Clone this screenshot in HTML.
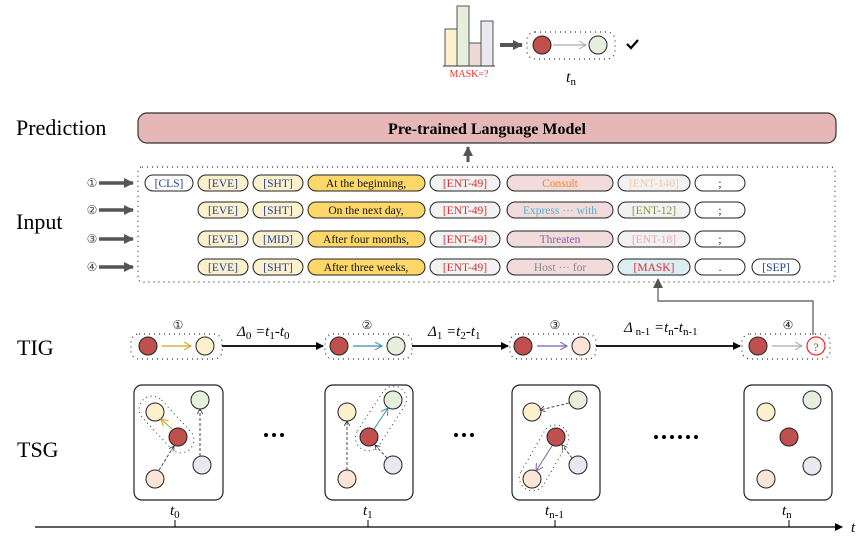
<!DOCTYPE html>
<html><head><meta charset="utf-8"><style>
html,body{margin:0;padding:0;background:#fff;}
svg{display:block;font-family:"Liberation Serif",serif;}
</style></head><body>
<svg width="864" height="540" viewBox="0 0 864 540" xmlns="http://www.w3.org/2000/svg">
<defs>
<marker id="ab" markerWidth="8" markerHeight="8" refX="7" refY="4" orient="auto" markerUnits="userSpaceOnUse"><path d="M0,0 L8,4 L0,8 z" fill="#000"/></marker>
<marker id="ag" markerWidth="10" markerHeight="10" refX="9" refY="5" orient="auto" markerUnits="userSpaceOnUse"><path d="M0,0 L10,5 L0,10 z" fill="#555"/></marker>
<marker id="ao" markerWidth="8" markerHeight="8" refX="7" refY="4" orient="auto" markerUnits="userSpaceOnUse"><path d="M0,0 L7,4 L0,8" fill="none" stroke="context-stroke" stroke-width="1"/></marker>
<marker id="as" markerWidth="6" markerHeight="6" refX="5" refY="3" orient="auto" markerUnits="userSpaceOnUse"><path d="M0,0 L5,3 L0,6" fill="none" stroke="#333" stroke-width="0.8"/></marker>
</defs>

<g stroke="#555" stroke-width="1">
<rect x="445" y="29" width="12" height="37" fill="#fdf1cd"/>
<rect x="457" y="6" width="12" height="60" fill="#e6efdc"/>
<rect x="469" y="43" width="12" height="23" fill="#efd9d7"/>
<rect x="481" y="21" width="12" height="45" fill="#e9e8f1"/>
</g>
<line x1="443" y1="66" x2="495" y2="66" stroke="#333" stroke-width="1"/>
<text x="469" y="77" font-size="10" fill="#f03030" text-anchor="middle">MASK=?</text>
<line x1="500" y1="45" x2="522" y2="45" stroke="#555" stroke-width="4" marker-end="url(#ag)"/>
<rect x="527" y="32" width="88" height="27" rx="8" fill="none" stroke="#333" stroke-width="1.2" stroke-dasharray="1,4"/>
<circle cx="542" cy="45" r="9" fill="#c0504d" stroke="#222"/>
<circle cx="598" cy="45" r="9" fill="#e6efdc" stroke="#222"/>
<line x1="553" y1="45" x2="586" y2="45" stroke="#aaa" stroke-width="1.2" marker-end="url(#ao)"/>
<path d="M627,44 L631,48 L638,40" fill="none" stroke="#000" stroke-width="2.2"/>
<text x="566" y="82" font-size="16" font-style="italic">t<tspan font-size="11" font-style="normal" dy="3">n</tspan></text>

<text x="16" y="135" font-size="22">Prediction</text>
<text x="16" y="229" font-size="22">Input</text>
<text x="17" y="355" font-size="22">TIG</text>
<text x="17" y="457" font-size="22">TSG</text>

<rect x="138" y="113" width="698" height="30" rx="9" fill="#e5b8b7" stroke="#333" stroke-width="1.2"/>
<text x="487" y="134" font-size="16" font-weight="bold" text-anchor="middle">Pre-trained Language Model</text>
<line x1="468" y1="162" x2="468" y2="147" stroke="#555" stroke-width="3" marker-end="url(#ag)"/>

<rect x="138" y="167" width="697" height="115" rx="4" fill="none" stroke="#333" stroke-width="1.2" stroke-dasharray="1,4"/>
<g font-size="12" fill="#444" text-anchor="middle">
<text x="92" y="187">①</text><text x="92" y="214">②</text><text x="92" y="243">③</text><text x="92" y="271">④</text>
</g>
<g stroke="#555" stroke-width="3.5">
<line x1="99" y1="183" x2="133" y2="183" marker-end="url(#ag)"/>
<line x1="99" y1="210" x2="133" y2="210" marker-end="url(#ag)"/>
<line x1="99" y1="239" x2="133" y2="239" marker-end="url(#ag)"/>
<line x1="99" y1="267" x2="133" y2="267" marker-end="url(#ag)"/>
</g>

<g font-size="11.5" text-anchor="middle" stroke-width="1">
<rect x="145" y="175" width="48" height="16" rx="8" fill="#fff" stroke="#222"/><text x="169" y="187" fill="#1f3f8f">[CLS]</text>
<rect x="198" y="175" width="50" height="16" rx="8" fill="#fdf1cd" stroke="#222"/><text x="223" y="187" fill="#1f3f8f">[EVE]</text>
<rect x="253" y="175" width="50" height="16" rx="8" fill="#fdf1cd" stroke="#222"/><text x="278" y="187" fill="#1f3f8f">[SHT]</text>
<rect x="308" y="175" width="117" height="16" rx="8" fill="#fdd868" stroke="#222"/><text x="366" y="187" fill="#111">At the beginning,</text>
<rect x="430" y="175" width="70" height="16" rx="8" fill="#f2f2f2" stroke="#222"/><text x="465" y="187" fill="#e03030">[ENT-49]</text>
<rect x="507" y="175" width="106" height="16" rx="8" fill="#f2dcdb" stroke="#222"/><text x="560" y="187" fill="#f08030">Consult</text>
<rect x="618" y="175" width="72" height="16" rx="8" fill="#f2f2f2" stroke="#222"/><text x="654" y="187" fill="#f5c8a8">[ENT-140]</text>
<rect x="695" y="175" width="50" height="16" rx="8" fill="#fff" stroke="#222"/><text x="720" y="187" fill="#222">;</text>
<rect x="198" y="202" width="50" height="16" rx="8" fill="#fdf1cd" stroke="#222"/><text x="223" y="214" fill="#1f3f8f">[EVE]</text>
<rect x="253" y="202" width="50" height="16" rx="8" fill="#fdf1cd" stroke="#222"/><text x="278" y="214" fill="#1f3f8f">[SHT]</text>
<rect x="308" y="202" width="117" height="16" rx="8" fill="#fdd868" stroke="#222"/><text x="366" y="214" fill="#111">On the next day,</text>
<rect x="430" y="202" width="70" height="16" rx="8" fill="#f2f2f2" stroke="#222"/><text x="465" y="214" fill="#e03030">[ENT-49]</text>
<rect x="507" y="202" width="106" height="16" rx="8" fill="#f2dcdb" stroke="#222"/><text x="560" y="214" fill="#5aaecc">Express ··· with</text>
<rect x="618" y="202" width="72" height="16" rx="8" fill="#f2f2f2" stroke="#222"/><text x="654" y="214" fill="#7a9a40">[ENT-12]</text>
<rect x="695" y="202" width="50" height="16" rx="8" fill="#fff" stroke="#222"/><text x="720" y="214" fill="#222">;</text>
<rect x="198" y="231" width="50" height="16" rx="8" fill="#fdf1cd" stroke="#222"/><text x="223" y="243" fill="#1f3f8f">[EVE]</text>
<rect x="253" y="231" width="50" height="16" rx="8" fill="#fdf1cd" stroke="#222"/><text x="278" y="243" fill="#1f3f8f">[MID]</text>
<rect x="308" y="231" width="117" height="16" rx="8" fill="#fdd868" stroke="#222"/><text x="366" y="243" fill="#111">After four months,</text>
<rect x="430" y="231" width="70" height="16" rx="8" fill="#f2f2f2" stroke="#222"/><text x="465" y="243" fill="#e03030">[ENT-49]</text>
<rect x="507" y="231" width="106" height="16" rx="8" fill="#f2dcdb" stroke="#222"/><text x="560" y="243" fill="#8060a8">Threaten</text>
<rect x="618" y="231" width="72" height="16" rx="8" fill="#f2f2f2" stroke="#222"/><text x="654" y="243" fill="#e8a8a8">[ENT-18]</text>
<rect x="695" y="231" width="50" height="16" rx="8" fill="#fff" stroke="#222"/><text x="720" y="243" fill="#222">;</text>
<rect x="198" y="259" width="50" height="16" rx="8" fill="#fdf1cd" stroke="#222"/><text x="223" y="271" fill="#1f3f8f">[EVE]</text>
<rect x="253" y="259" width="50" height="16" rx="8" fill="#fdf1cd" stroke="#222"/><text x="278" y="271" fill="#1f3f8f">[SHT]</text>
<rect x="308" y="259" width="117" height="16" rx="8" fill="#fdd868" stroke="#222"/><text x="366" y="271" fill="#111">After three weeks,</text>
<rect x="430" y="259" width="70" height="16" rx="8" fill="#f2f2f2" stroke="#222"/><text x="465" y="271" fill="#e03030">[ENT-49]</text>
<rect x="507" y="259" width="106" height="16" rx="8" fill="#f2dcdb" stroke="#222"/><text x="560" y="271" fill="#888">Host ··· for</text>
<rect x="618" y="259" width="72" height="16" rx="8" fill="#dbeef3" stroke="#222"/><text x="654" y="271" fill="#f02030">[MASK]</text>
<rect x="695" y="259" width="50" height="16" rx="8" fill="#fff" stroke="#222"/><text x="720" y="271" fill="#222">.</text>
<rect x="752" y="259" width="48" height="16" rx="8" fill="#fff" stroke="#222"/><text x="776" y="271" fill="#1f3f8f">[SEP]</text>
</g>

<polyline points="813,335 813,301 658,301 658,279" fill="none" stroke="#555" stroke-width="1.2" marker-end="url(#ag)"/>

<g stroke="#333" stroke-width="1.2" stroke-dasharray="1,4" fill="none">
<rect x="131" y="334" width="91" height="25" rx="8"/>
<rect x="325" y="334" width="87" height="25" rx="8"/>
<rect x="510" y="334" width="86" height="25" rx="8"/>
<rect x="742" y="334" width="88" height="25" rx="8"/>
</g>
<g font-size="12" text-anchor="middle" fill="#222">
<text x="178" y="329">①</text><text x="367" y="329">②</text><text x="555" y="329">③</text><text x="788" y="329">④</text>
</g>
<g stroke="#222" stroke-width="1">
<circle cx="148" cy="346" r="9" fill="#c0504d"/><circle cx="205" cy="346" r="9" fill="#fdf1cd"/>
<circle cx="339" cy="346" r="9" fill="#c0504d"/><circle cx="396" cy="346" r="9" fill="#e6efdc"/>
<circle cx="523" cy="346" r="9" fill="#c0504d"/><circle cx="581" cy="346" r="9" fill="#fbe5d6"/>
<circle cx="758" cy="346" r="9" fill="#c0504d"/>
</g>
<circle cx="816" cy="346" r="9" fill="#fff" stroke="#f02020" stroke-width="1.2"/>
<text x="816" y="351" font-size="12" fill="#f02020" text-anchor="middle">?</text>
<line x1="162" y1="346" x2="191" y2="346" stroke="#d4a017" stroke-width="1.3" marker-end="url(#ao)"/>
<line x1="353" y1="346" x2="382" y2="346" stroke="#3a90a8" stroke-width="1.3" marker-end="url(#ao)"/>
<line x1="537" y1="346" x2="567" y2="346" stroke="#8060a8" stroke-width="1.3" marker-end="url(#ao)"/>
<line x1="772" y1="346" x2="802" y2="346" stroke="#aaa" stroke-width="1.3" marker-end="url(#ao)"/>
<g stroke="#000" stroke-width="1.8">
<line x1="222" y1="346" x2="323" y2="346" marker-end="url(#ab)"/>
<line x1="412" y1="346" x2="508" y2="346" marker-end="url(#ab)"/>
<line x1="596" y1="346" x2="740" y2="346" marker-end="url(#ab)"/>
</g>
<g font-size="15" font-style="italic">
<text x="237" y="336">Δ<tspan font-style="normal" font-size="11" dy="3">0</tspan><tspan dy="-3"> =t</tspan><tspan font-style="normal" font-size="11" dy="3">1</tspan><tspan dy="-3">-t</tspan><tspan font-style="normal" font-size="11" dy="3">0</tspan></text>
<text x="428" y="336">Δ<tspan font-style="normal" font-size="11" dy="3">1</tspan><tspan dy="-3"> =t</tspan><tspan font-style="normal" font-size="11" dy="3">2</tspan><tspan dy="-3">-t</tspan><tspan font-style="normal" font-size="11" dy="3">1</tspan></text>
<text x="624" y="332">Δ<tspan font-style="normal" font-size="11" dy="3"> n-1</tspan><tspan dy="-3"> =t</tspan><tspan font-style="normal" font-size="11" dy="3">n</tspan><tspan dy="-3">-t</tspan><tspan font-style="normal" font-size="11" dy="3">n-1</tspan></text>
</g>

<g fill="#fff" stroke="#222" stroke-width="1.2">
<rect x="134" y="385" width="89" height="115" rx="8"/>
<rect x="325" y="385" width="88" height="115" rx="8"/>
<rect x="512" y="385" width="88" height="115" rx="8"/>
<rect x="744" y="385" width="88" height="115" rx="8"/>
</g>
<g fill="none" stroke="#333" stroke-width="1" stroke-dasharray="1,3.5">
<rect x="132.5" y="411.5" width="68" height="26" rx="13" transform="rotate(47 166.5 424.5)"/>
<rect x="345" y="405.5" width="72" height="26" rx="13" transform="rotate(-57 381 418.5)"/>
<rect x="508" y="445" width="72" height="26" rx="13" transform="rotate(-60 544 458)"/>
</g>
<g stroke="#222" stroke-width="1">
<circle cx="155" cy="412" r="9" fill="#fdf1cd"/><circle cx="200" cy="400" r="9" fill="#e6efdc"/><circle cx="178" cy="437" r="9" fill="#c0504d"/><circle cx="202" cy="465" r="9" fill="#e9e8f1"/><circle cx="155" cy="479" r="9" fill="#fbe5d6"/>
<circle cx="347" cy="412" r="9" fill="#fdf1cd"/><circle cx="393" cy="400" r="9" fill="#e6efdc"/><circle cx="369" cy="437" r="9" fill="#c0504d"/><circle cx="393" cy="465" r="9" fill="#e9e8f1"/><circle cx="347" cy="479" r="9" fill="#fbe5d6"/>
<circle cx="532" cy="412" r="9" fill="#fdf1cd"/><circle cx="578" cy="400" r="9" fill="#e6efdc"/><circle cx="556" cy="437" r="9" fill="#c0504d"/><circle cx="578" cy="465" r="9" fill="#e9e8f1"/><circle cx="532" cy="479" r="9" fill="#fbe5d6"/>
<circle cx="766" cy="412" r="9" fill="#fdf1cd"/><circle cx="812" cy="400" r="9" fill="#e6efdc"/><circle cx="789" cy="437" r="9" fill="#c0504d"/><circle cx="812" cy="466" r="9" fill="#e9e8f1"/><circle cx="766" cy="479" r="9" fill="#fbe5d6"/>
</g>
<line x1="172" y1="429" x2="161" y2="419" stroke="#d4a017" stroke-width="1" marker-end="url(#ao)"/>
<g stroke="#333" stroke-width="0.9" stroke-dasharray="3,2" fill="none">
<line x1="159" y1="470" x2="174" y2="446" marker-end="url(#as)"/>
<line x1="200" y1="456" x2="200" y2="409" marker-end="url(#as)"/>
<line x1="347" y1="470" x2="347" y2="421" marker-end="url(#as)"/>
<line x1="387" y1="458" x2="375" y2="445" marker-end="url(#as)"/>
<line x1="569" y1="403" x2="540" y2="410" marker-end="url(#as)"/>
<line x1="572" y1="458" x2="562" y2="445" marker-end="url(#as)"/>
</g>
<line x1="374" y1="429" x2="388" y2="408" stroke="#3a90a8" stroke-width="1" marker-end="url(#ao)"/>
<line x1="552" y1="446" x2="536" y2="471" stroke="#8060a8" stroke-width="1" marker-end="url(#ao)"/>

<g fill="#000">
<circle cx="266" cy="435" r="2"/><circle cx="274" cy="435" r="2"/><circle cx="282" cy="435" r="2"/>
<circle cx="456" cy="435" r="2"/><circle cx="464" cy="435" r="2"/><circle cx="472" cy="435" r="2"/>
<circle cx="656" cy="437" r="2"/><circle cx="664" cy="437" r="2"/><circle cx="672" cy="437" r="2"/><circle cx="680" cy="437" r="2"/><circle cx="688" cy="437" r="2"/><circle cx="696" cy="437" r="2"/>
</g>

<line x1="35" y1="527" x2="842" y2="527" stroke="#000" stroke-width="1.2" marker-end="url(#ab)"/>
<g stroke="#000" stroke-width="1">
<line x1="175" y1="520" x2="175" y2="527"/><line x1="368" y1="520" x2="368" y2="527"/><line x1="555" y1="520" x2="555" y2="527"/><line x1="789" y1="520" x2="789" y2="527"/>
</g>
<g font-size="15" font-style="italic">
<text x="170" y="515">t<tspan font-style="normal" font-size="11" dy="3">0</tspan></text>
<text x="363" y="515">t<tspan font-style="normal" font-size="11" dy="3">1</tspan></text>
<text x="545" y="515">t<tspan font-style="normal" font-size="11" dy="3">n-1</tspan></text>
<text x="782" y="515">t<tspan font-style="normal" font-size="11" dy="3">n</tspan></text>
<text x="851" y="532">t</text>
</g>
</svg>
</body></html>
